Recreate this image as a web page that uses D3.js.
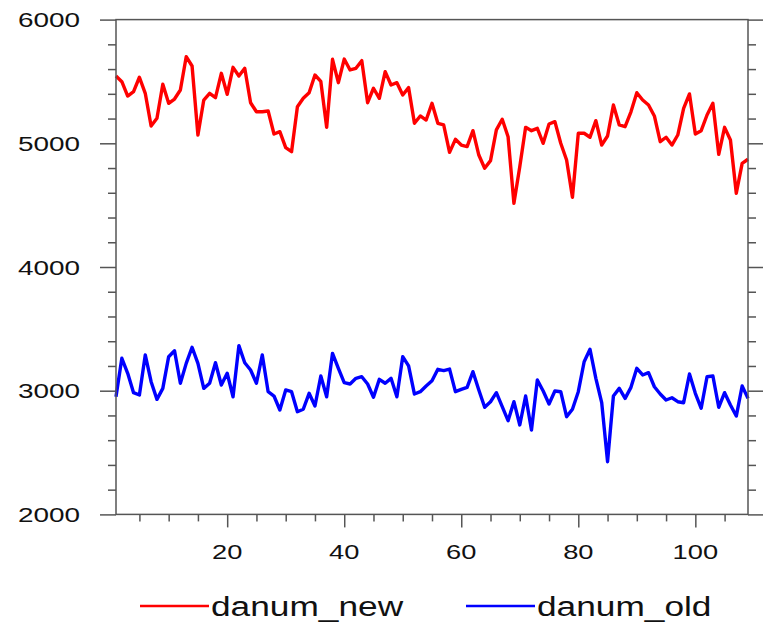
<!DOCTYPE html>
<html><head><meta charset="utf-8">
<script src="https://cdn.jsdelivr.net/npm/d3@7"></script>
<style>body{margin:0;background:#fff;}svg{display:block;}</style>
</head><body>
<svg id="c" width="763" height="629"></svg>
<script>
const seriesNames = ["danum_new", "danum_old"];
const seriesColors = ["#ff0000", "#0000ff"];
const danumNew = [5544,5498,5382,5417,5534,5404,5140,5202,5477,5323,5358,5431,5700,5625,5067,5350,5404,5369,5566,5396,
5614,5544,5606,5328,5255,5255,5261,5075,5094,4965,4932,5296,5364,5409,5552,5500,5129,5679,5490,5681,
5593,5606,5668,5328,5445,5364,5579,5471,5490,5390,5450,5162,5221,5188,5323,5162,5148,4927,5032,4986,
4973,5102,4905,4798,4860,5108,5194,5053,4515,4811,5129,5102,5121,5000,5156,5175,5000,4865,4563,5081,
5081,5049,5183,4986,5059,5310,5148,5134,5255,5409,5350,5310,5221,5013,5049,4986,5067,5283,5399,5075,
5102,5229,5323,4911,5129,5027,4596,4838,4871];
const danumOld = [2951,3262,3141,2984,2965,3289,3073,2930,3019,3275,3323,3060,3221,3351,3221,3019,3060,3226,3046,3141,
2951,3364,3226,3167,3060,3289,2992,2957,2844,3006,2992,2830,2850,2979,2876,3119,2951,3302,3181,3065,
3054,3100,3113,3054,2947,3092,3060,3100,2951,3275,3200,2973,2992,3038,3081,3173,3162,3175,2992,3011,
3027,3154,3006,2866,2911,2984,2871,2758,2911,2723,2957,2682,3087,2998,2893,2998,2992,2790,2850,2992,
3234,3335,3100,2903,2426,2957,3019,2938,3027,3181,3127,3146,3032,2973,2925,2943,2911,2903,3135,2979,
2858,3113,3119,2866,2984,2884,2795,3038,2938];
const xMajorTicks = [20, 40, 60, 80, 100];
const yMajorTicks = [2000, 3000, 4000, 5000, 6000];

const svg = d3.select("#c");
const L = 116, R = 748, T = 19.6, B = 514.4;
const n = danumNew.length;
const x = d3.scaleLinear().domain([1, n]).range([L, R]);
const y = d3.scaleLinear().domain([2000, 6000]).range([B, T]);

const xMinor = d3.range(5, n + 1, 5).filter(v => !xMajorTicks.includes(v));
const yMinor = d3.range(2000, 6001, 200).filter(v => v % 1000 !== 0);

const axisColor = "#555";
function styleAxis(g) {
  g.select(".domain").remove();
  g.selectAll(".tick line").attr("stroke", axisColor).attr("stroke-width", 1.5);
}
// minor ticks
svg.append("g").attr("transform", `translate(0,${B})`)
  .call(d3.axisBottom(x).tickValues(xMinor).tickSize(7).tickFormat("")).call(styleAxis);
svg.append("g").attr("transform", `translate(${L},0)`)
  .call(d3.axisLeft(y).tickValues(yMinor).tickSize(8).tickFormat("")).call(styleAxis);
svg.append("g").attr("transform", `translate(${R},0)`)
  .call(d3.axisRight(y).tickValues(yMinor).tickSize(8).tickFormat("")).call(styleAxis);
// major ticks
svg.append("g").attr("transform", `translate(0,${B})`)
  .call(d3.axisBottom(x).tickValues(xMajorTicks).tickSize(13).tickFormat("")).call(styleAxis);
svg.append("g").attr("transform", `translate(${L},0)`)
  .call(d3.axisLeft(y).tickValues(yMajorTicks).tickSize(16).tickFormat("")).call(styleAxis);
svg.append("g").attr("transform", `translate(${R},0)`)
  .call(d3.axisRight(y).tickValues(yMajorTicks).tickSize(16).tickFormat("")).call(styleAxis);

// tick labels
const font = "'Liberation Sans', Arial, sans-serif";
svg.append("g").selectAll("text").data(xMajorTicks).join("text")
  .attr("transform", d => `translate(${x(d)},559) scale(1.3,1)`)
  .attr("text-anchor", "middle").attr("font-family", font).attr("font-size", 21)
  .attr("fill", "#111").text(d => d);
svg.append("g").selectAll("text").data(yMajorTicks).join("text")
  .attr("transform", d => `translate(80,${y(d) + 7.5}) scale(1.33,1)`)
  .attr("text-anchor", "end").attr("font-family", font).attr("font-size", 21)
  .attr("fill", "#111").text(d => d);

// lines
const line = d3.line().x((d, i) => x(i + 1)).y(d => y(d));
[danumNew, danumOld].forEach((s, k) => {
  svg.append("path").datum(s).attr("d", line).attr("fill", "none")
    .attr("stroke", seriesColors[k]).attr("stroke-width", 3.4).attr("stroke-linejoin", "round");
});

// frame
svg.append("rect").attr("x", L).attr("y", T).attr("width", R - L).attr("height", B - T)
  .attr("fill", "none").attr("stroke", axisColor).attr("stroke-width", 1.5);

// legend
const legX = [140, 466];
seriesNames.forEach((name, k) => {
  svg.append("line").attr("x1", legX[k]).attr("x2", legX[k] + 69).attr("y1", 606).attr("y2", 606)
    .attr("stroke", seriesColors[k]).attr("stroke-width", 2.5);
  svg.append("text").attr("transform", `translate(${legX[k] + 71},616) scale(1.26,1)`)
    .attr("font-family", font).attr("font-size", 28).attr("fill", "#111").text(name);
});
</script>
</body></html>
